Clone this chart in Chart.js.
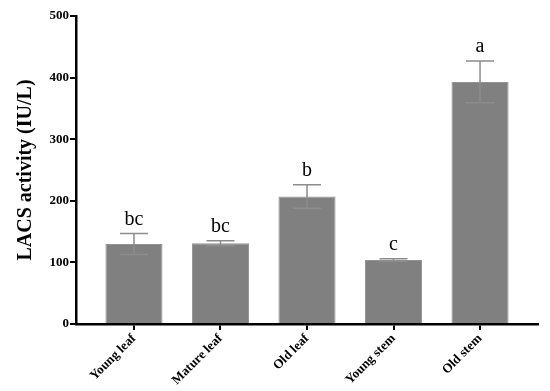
<!DOCTYPE html>
<html>
<head>
<meta charset="utf-8">
<script src="https://cdn.jsdelivr.net/npm/chart.js@4"></script>
<style>
html,body{margin:0;padding:0;background:#fff;}
#wrap{width:550px;height:391px;position:relative;}
</style>
</head>
<body>
<div id="wrap"><canvas id="c" width="550" height="391"></canvas></div>
<script>
const categories = ["Young leaf", "Mature leaf", "Old leaf", "Young stem", "Old stem"];
const means = [130, 131, 207, 104, 393];
const errors = [17, 4, 19, 2, 34];
const letters = ["bc", "bc", "b", "c", "a"];
const yTicks = [0, 100, 200, 300, 400, 500];

const serif = "'Liberation Serif', 'Times New Roman', serif";

const errorPlugin = {
  id: 'errs',
  afterDatasetsDraw(chart) {
    const ctx = chart.ctx;
    const xs = chart.scales.x, ys = chart.scales.y;
    ctx.save();
    ctx.strokeStyle = '#8c8c8c';
    ctx.lineWidth = 1.5;
    means.forEach((m, i) => {
      const x = xs.getPixelForValue(i);
      const yT = ys.getPixelForValue(m + errors[i]);
      const yB = ys.getPixelForValue(m - errors[i]);
      const cap = 14;
      ctx.beginPath();
      ctx.moveTo(x, yT); ctx.lineTo(x, yB);
      ctx.moveTo(x - cap, yT); ctx.lineTo(x + cap, yT);
      ctx.moveTo(x - cap, yB); ctx.lineTo(x + cap, yB);
      ctx.stroke();
      ctx.fillStyle = '#000';
      ctx.font = "20px " + serif;
      ctx.textAlign = 'center';
      ctx.textBaseline = 'middle';
      ctx.fillText(letters[i], x, yT - 14);
    });
    ctx.restore();
  }
};

new Chart(document.getElementById('c'), {
  type: 'bar',
  data: {
    datasets: [{
      data: means.map((v, i) => ({x: i, y: v})),
      backgroundColor: '#808080',
      borderColor: '#939393',
      borderWidth: 1,
      barPercentage: 0.66,
      categoryPercentage: 1
    }]
  },
  options: {
    responsive: false,
    animation: false,
    devicePixelRatio: 1,
    layout: {padding: {left: 0, right: 12, top: 16, bottom: 0}},
    plugins: {legend: {display: false}, tooltip: {enabled: false}},
    scales: {
      x: {
        type: 'linear',
        offset: false,
        min: -0.67, max: 4.67,
        afterBuildTicks(s) { s.ticks = categories.map((c, i) => ({value: i})); },
        afterFit(s) { s.height = 67; },
        ticks: {
          autoSkip: false,
          maxRotation: 45, minRotation: 45,
          color: '#000',
          font: {family: serif, size: 13, weight: 'bold'},
          padding: 1,
          callback: (v) => categories[v]
        },
        grid: {display: true, offset: false, drawOnChartArea: false, drawTicks: true, tickLength: 6, color: '#000', lineWidth: 2},
        border: {display: true, color: '#000', width: 2.5}
      },
      y: {
        min: 0, max: 500,
        afterBuildTicks(s) { s.ticks = yTicks.map(v => ({value: v})); },
        afterFit(s) { s.width = 76; },
        ticks: {
          color: '#000',
          font: {family: serif, size: 13, weight: 'bold'},
          padding: 1
        },
        grid: {display: true, drawOnChartArea: false, drawTicks: true, tickLength: 6, color: '#000', lineWidth: 2},
        border: {display: true, color: '#000', width: 2.5},
        title: {
          display: true,
          text: 'LACS activity (IU/L)',
          color: '#000',
          font: {family: serif, size: 20, weight: 'bold'},
          padding: {top: 14, bottom: 0}
        }
      }
    }
  },
  plugins: [errorPlugin]
});
</script>
</body>
</html>
